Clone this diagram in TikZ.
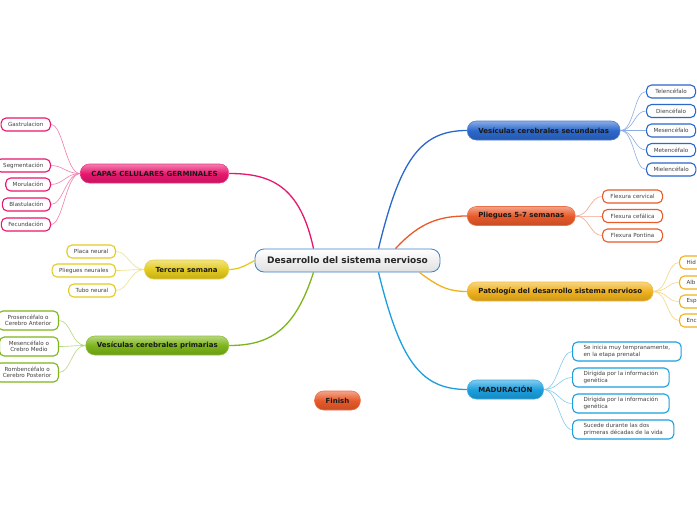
\documentclass[tikz,border=0pt]{standalone}
\usepackage{fontspec}
\setmainfont{DejaVu Sans}
\definecolor{cpink}{HTML}{E8176E}
\definecolor{cblue}{HTML}{2B68CC}
\definecolor{corange}{HTML}{E85A2A}
\definecolor{camber}{HTML}{EFB21E}
\definecolor{csky}{HTML}{1C9FDF}
\definecolor{cyellow}{HTML}{E4CB1F}
\definecolor{cgreen}{HTML}{7DB51A}
\definecolor{croot}{HTML}{3C82C8}
\begin{document}
\begin{tikzpicture}[x=1pt, y=-1pt,
  root/.style={draw=croot, line width=0.8pt, rounded corners=9pt, top color=white, bottom color=black!12, minimum width=185pt, minimum height=23pt, font=\fontsize{9}{10}\selectfont\bfseries, text=black!85},
  topic/.style={draw=#1!85!white, line width=0.6pt, rounded corners=9pt, top color=#1!55!white, bottom color=#1!85!black, middle color=#1, minimum height=19pt, inner xsep=11pt, font=\fontsize{7}{8}\selectfont\bfseries, text=black!90},
  leaf/.style={draw=#1, line width=1.1pt, fill=white, rounded corners=5pt, minimum height=13pt, inner xsep=7pt, inner ysep=1pt, font=\fontsize{5.6}{6.4}\selectfont, text=black!75},
  link/.style={draw=#1, line width=1.3pt},
  twig/.style={draw=#1!55!white, line width=0.6pt}]
  \useasboundingbox[fill=white] (0,0) rectangle (697,520);
  % Central topic
  \node[root] (root) at (347.5,260.5) {Desarrollo del sistema nervioso};
  % Main topics, right side
  \node[topic=cblue, anchor=west] (vsec) at (467,130.5) {Vesículas cerebrales secundarias};
  \node[topic=corange, anchor=west] (pli) at (467,216) {Pliegues 5-7 semanas};
  \node[topic=camber, anchor=west] (pat) at (467,291.5) {Patología del desarrollo sistema nervioso};
  \node[topic=csky, anchor=west] (mad) at (467,389.5) {MADURACIÓN};
  % Main topics, left side
  \node[topic=cpink, anchor=east] (capas) at (229,173.5) {CAPAS CELULARES GERMINALES};
  \node[topic=cyellow, anchor=east] (ter) at (229,269.5) {Tercera semana};
  \node[topic=cgreen, anchor=east] (vpri) at (229,345.5) {Vesículas cerebrales primarias};
  \node[topic=corange] (fin) at (337.5,400.5) {Finish};
  % Links from the centre
  \draw[link=cpink] ([xshift=-34pt]root.north) .. controls (300,185) and (270,173.5) .. (capas.east);
  \draw[link=cblue] ([xshift=31pt]root.north) .. controls (400,160) and (420,130.5) .. (vsec.west);
  \draw[link=corange] ([xshift=48pt]root.north) .. controls (420,222) and (440,216) .. (pli.west);
  \draw[link=camber] ([xshift=72pt]root.south) .. controls (440,288) and (450,291.5) .. (pat.west);
  \draw[link=csky] ([xshift=31pt]root.south) .. controls (400,360) and (420,389.5) .. (mad.west);
  \draw[link=cgreen] ([xshift=-34pt]root.south) .. controls (295,330) and (270,345.5) .. (vpri.east);
  \draw[link=cyellow] (root.west) .. controls (245,266) and (238,269.5) .. (ter.east);
  % Vesiculas secundarias
  \node[leaf=cblue, anchor=west, minimum width=49pt] (tel) at (646,91.5) {Telencéfalo};
  \node[leaf=cblue, anchor=west, minimum width=49pt] (die) at (646,111) {Diencéfalo};
  \node[leaf=cblue, anchor=west, minimum width=49pt] (mes) at (646,130.5) {Mesencéfalo};
  \node[leaf=cblue, anchor=west, minimum width=49pt] (met) at (646,150) {Metencéfalo};
  \node[leaf=cblue, anchor=west, minimum width=49pt] (mie) at (646,169.5) {Mielencéfalo};
  \draw[twig=cblue] (vsec.east) .. controls +(14,0) and +(-12,0) .. (tel.west);
  \draw[twig=cblue] (vsec.east) .. controls +(14,0) and +(-12,0) .. (die.west);
  \draw[twig=cblue] (vsec.east) .. controls +(14,0) and +(-12,0) .. (mes.west);
  \draw[twig=cblue] (vsec.east) .. controls +(14,0) and +(-12,0) .. (met.west);
  \draw[twig=cblue] (vsec.east) .. controls +(14,0) and +(-12,0) .. (mie.west);
  % Pliegues
  \node[leaf=corange, anchor=west, minimum width=60pt] (fcer) at (602,196.5) {Flexura cervical};
  \node[leaf=corange, anchor=west, minimum width=60pt] (fcef) at (602,216) {Flexura cefálica};
  \node[leaf=corange, anchor=west, minimum width=60pt] (fpon) at (602,235.5) {Flexura Pontina};
  \draw[twig=corange] (pli.east) .. controls +(14,0) and +(-12,0) .. (fcer.west);
  \draw[twig=corange] (pli.east) .. controls +(14,0) and +(-12,0) .. (fcef.west);
  \draw[twig=corange] (pli.east) .. controls +(14,0) and +(-12,0) .. (fpon.west);
  % Patologia (cut by the border)
  \node[leaf=camber, anchor=west, text width=40pt, align=left] (hid) at (679,262.5) {Hid};
  \node[leaf=camber, anchor=west, text width=40pt, align=left] (alb) at (679,282.5) {Alb};
  \node[leaf=camber, anchor=west, text width=40pt, align=left] (esp) at (679,301.5) {Esp};
  \node[leaf=camber, anchor=west, text width=40pt, align=left] (enc) at (679,320.5) {Enc};
  \draw[twig=camber] (pat.east) .. controls +(14,0) and +(-12,0) .. (hid.west);
  \draw[twig=camber] (pat.east) .. controls +(14,0) and +(-12,0) .. (alb.west);
  \draw[twig=camber] (pat.east) .. controls +(14,0) and +(-12,0) .. (esp.west);
  \draw[twig=camber] (pat.east) .. controls +(14,0) and +(-12,0) .. (enc.west);
  % Maduracion
  \node[leaf=csky, anchor=west, align=left, minimum height=19pt, inner xsep=11pt] (ini) at (572,351.5) {Se inicia muy tempranamente,\\en la etapa prenatal};
  \node[leaf=csky, anchor=west, align=left, minimum height=19pt, inner xsep=11pt] (dir) at (572,377.5) {Dirigida por la información\\genética};
  \node[leaf=csky, anchor=west, align=left, minimum height=19pt, inner xsep=11pt] (dirb) at (572,403.5) {Dirigida por la información\\genética};
  \node[leaf=csky, anchor=west, align=left, minimum height=19pt, inner xsep=11pt] (suc) at (572,429.5) {Sucede durante las dos\\primeras décadas de la vida};
  \draw[twig=csky] (mad.east) .. controls +(14,0) and +(-12,0) .. (ini.west);
  \draw[twig=csky] (mad.east) .. controls +(14,0) and +(-12,0) .. (dir.west);
  \draw[twig=csky] (mad.east) .. controls +(14,0) and +(-12,0) .. (dirb.west);
  \draw[twig=csky] (mad.east) .. controls +(14,0) and +(-12,0) .. (suc.west);
  % Capas celulares
  \node[leaf=cpink, anchor=east] (gas) at (51,124.5) {Gastrulacion};
  \node[leaf=cpink, anchor=east] (seg) at (51,165.5) {Segmentación};
  \node[leaf=cpink, anchor=east] (mor) at (51,184.5) {Morulación};
  \node[leaf=cpink, anchor=east] (bla) at (51,204.5) {Blastulación};
  \node[leaf=cpink, anchor=east] (fec) at (51,224.5) {Fecundación};
  \draw[twig=cpink] (capas.west) .. controls +(-14,0) and +(12,0) .. (gas.east);
  \draw[twig=cpink] (capas.west) .. controls +(-14,0) and +(12,0) .. (seg.east);
  \draw[twig=cpink] (capas.west) .. controls +(-14,0) and +(12,0) .. (mor.east);
  \draw[twig=cpink] (capas.west) .. controls +(-14,0) and +(12,0) .. (bla.east);
  \draw[twig=cpink] (capas.west) .. controls +(-14,0) and +(12,0) .. (fec.east);
  % Tercera semana
  \node[leaf=cyellow, anchor=east] (pla) at (116,251.5) {Placa neural};
  \node[leaf=cyellow, anchor=east] (plie) at (116,270.5) {Pliegues neurales};
  \node[leaf=cyellow, anchor=east] (tub) at (116,290.5) {Tubo neural};
  \draw[twig=cyellow] (ter.west) .. controls +(-14,0) and +(12,0) .. (pla.east);
  \draw[twig=cyellow] (ter.west) .. controls +(-14,0) and +(12,0) .. (plie.east);
  \draw[twig=cyellow] (ter.west) .. controls +(-14,0) and +(12,0) .. (tub.east);
  % Vesiculas primarias
  \node[leaf=cgreen, anchor=east, align=center, minimum height=19pt] (pros) at (59,320.5) {Prosencéfalo o\\Cerebro Anterior};
  \node[leaf=cgreen, anchor=east, align=center, minimum height=19pt, minimum width=59pt] (meso) at (59,346.5) {Mesencéfalo o\\Crebro Medio};
  \node[leaf=cgreen, anchor=east, align=center, minimum height=19pt] (romb) at (59,372.5) {Rombencéfalo o\\Cerebro Posterior};
  \draw[twig=cgreen] (vpri.west) .. controls +(-14,0) and +(12,0) .. (pros.east);
  \draw[twig=cgreen] (vpri.west) .. controls +(-14,0) and +(12,0) .. (meso.east);
  \draw[twig=cgreen] (vpri.west) .. controls +(-14,0) and +(12,0) .. (romb.east);
\end{tikzpicture}
\end{document}
